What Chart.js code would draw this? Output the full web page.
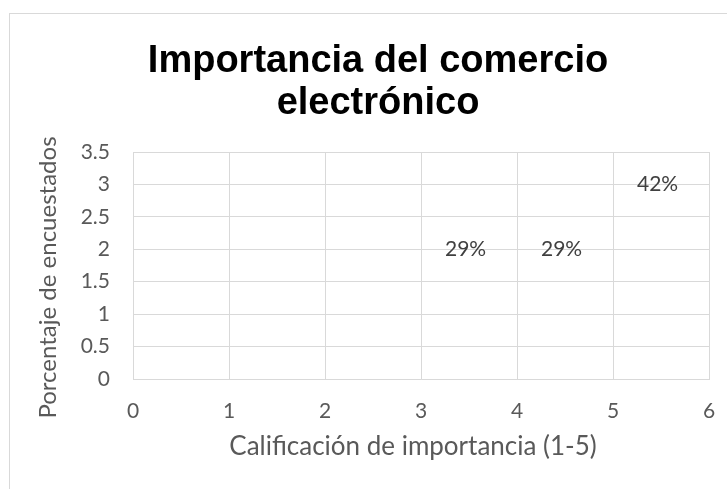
<!DOCTYPE html>
<html>
<head>
<meta charset="utf-8">
<script src="https://cdn.jsdelivr.net/npm/chart.js@4/dist/chart.umd.min.js"></script>
<style>
  html, body { margin: 0; padding: 0; background: #ffffff; overflow: hidden; width: 727px; height: 489px; }
  #frame { position: absolute; left: 9px; top: 13px; width: 760px; height: 500px;
           border-left: 1px solid #d9d9d9; border-top: 1px solid #d9d9d9; }
  #c { position: absolute; left: 0; top: 0; }
</style>
</head>
<body>
<div id="frame"><canvas id="c" width="736" height="475"></canvas></div>
<script>
// ---- data ----
const ratings = [3, 4, 5];              // Calificación de importancia (x)
const respondents = [2, 2, 3];          // y values
const percentLabels = ['29%', '29%', '42%'];
const xTickLabels = ['0', '1', '2', '3', '4', '5', '6'];
const yTickLabels = ['0', '0.5', '1', '1.5', '2', '2.5', '3', '3.5'];
const chartTitle = ['Importancia del comercio', 'electrónico'];
const xTitle = 'Calificación de importancia (1-5)';
const yTitle = 'Porcentaje de encuestados';

const FONT = 'Lato, "Open Sans", "Liberation Sans", sans-serif';
const GRID = '#d9d9d9';

const labelPlugin = {
  id: 'pointLabels',
  afterDatasetsDraw(chart) {
    const ctx = chart.ctx;
    const meta = chart.getDatasetMeta(0);
    ctx.save();
    ctx.font = '21px ' + FONT;
    ctx.fillStyle = '#404040';
    ctx.textAlign = 'left';
    ctx.textBaseline = 'middle';
    meta.data.forEach((el, i) => {
      ctx.fillText(percentLabels[i], el.x + 24, el.y);
    });
    ctx.restore();
  }
};

const axisTitlePlugin = {
  id: 'axisTitles',
  afterDraw(chart) {
    const ctx = chart.ctx;
    const area = chart.chartArea;
    ctx.save();
    ctx.fillStyle = '#595959';
    ctx.textAlign = 'center';
    ctx.textBaseline = 'middle';
    // x axis title
    ctx.font = '26px ' + FONT;
    ctx.fillText(xTitle, (area.left + area.right) / 2 - 8, area.bottom + 68);
    // y axis title (rotated)
    ctx.font = '24px ' + FONT;
    ctx.translate(38, (area.top + area.bottom) / 2 + 12);
    ctx.rotate(-Math.PI / 2);
    ctx.fillText(yTitle, 0, 0);
    ctx.restore();
  }
};

new Chart(document.getElementById('c'), {
  type: 'scatter',
  data: {
    datasets: [{
      data: ratings.map((x, i) => ({ x: x, y: respondents[i] })),
      pointRadius: 0,
      pointHoverRadius: 0,
      showLine: false
    }]
  },
  options: {
    responsive: false,
    animation: false,
    events: [],
    layout: { padding: 0 },
    plugins: {
      legend: { display: false },
      tooltip: { enabled: false },
      title: {
        display: true,
        text: chartTitle,
        color: '#000000',
        font: { family: '"Liberation Sans", Arial, sans-serif', size: 38, weight: 'bold', lineHeight: 1.1 },
        padding: { top: 27, bottom: 27.4 }
      }
    },
    scales: {
      x: {
        type: 'linear',
        min: 0, max: 6,
        ticks: {
          stepSize: 1, color: '#595959', padding: 20, font: { family: FONT, size: 21 },
          callback: (v) => xTickLabels[Math.round(v)]
        },
        grid: { color: GRID, lineWidth: 1, drawTicks: false },
        border: { color: GRID, width: 1 },
        afterFit(scale) { scale.height = 110; }
      },
      y: {
        type: 'linear',
        min: 0, max: 3.5,
        ticks: {
          stepSize: 0.5, color: '#595959', padding: 23, font: { family: FONT, size: 21 },
          callback: (v) => yTickLabels[Math.round(v * 2)]
        },
        grid: { color: GRID, lineWidth: 1, drawTicks: false },
        border: { color: GRID, width: 1 },
        afterFit(scale) { scale.width = 123; }
      },
      spacer: {
        type: 'linear',
        axis: 'y',
        position: 'right',
        display: true,
        ticks: { display: false },
        grid: { display: false, drawTicks: false },
        border: { display: false },
        afterFit(scale) { scale.width = 37; }
      }
    }
  },
  plugins: [labelPlugin, axisTitlePlugin]
});
</script>
</body>
</html>
